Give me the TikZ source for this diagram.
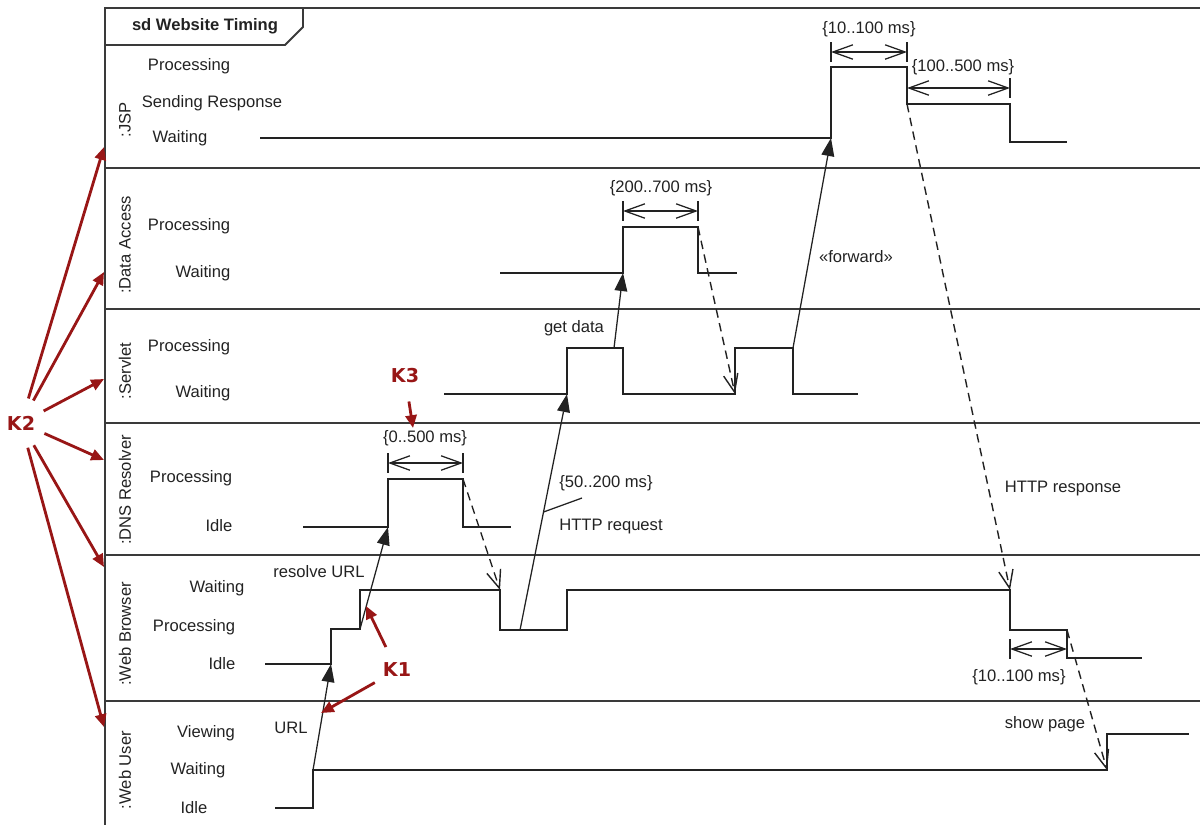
\documentclass[tikz,border=0pt]{standalone}
\usepackage{fontspec}
\setmainfont{Liberation Sans}
\newfontfamily\keyfont{DejaVu Sans}
\usetikzlibrary{arrows.meta}
\definecolor{ink}{HTML}{222222}
\definecolor{rule}{HTML}{3A3A3A}
\definecolor{keyred}{HTML}{981616}
\tikzset{frame/.style={draw=rule,line width=1.3pt}, sig/.style={draw=ink,line width=1.1pt}, lbl/.style={text=ink,font=\fontsize{11.8}{14}\selectfont,inner sep=1pt}, lane/.style={lbl,rotate=90}, call/.style={draw=ink,line width=0.9pt,-{Triangle[length=4.5mm,width=3.2mm]}}, reply/.style={draw=ink,line width=1pt,dash pattern=on 6pt off 4pt,-{Straight Barb[length=4.5mm,width=3.6mm]}}, dur/.style={draw=ink,line width=0.9pt,{Straight Barb[length=5mm,width=3.6mm]}-{Straight Barb[length=5mm,width=3.6mm]}}, key/.style={circle,inner sep=5pt,text=keyred,font=\keyfont\bfseries\fontsize{13.6}{16}\selectfont}, keyarr/.style={draw=keyred,line width=2pt,-{Triangle[length=3.2mm,width=2.8mm]}}}
\begin{document}
\begin{tikzpicture}[x=0.025cm,y=-0.025cm]
\useasboundingbox (0,0) rectangle (1200,825);
\draw[frame] (1200,8) -- (105,8) -- (105,825);
\foreach \y in {168,309,423,555,701}{\draw[frame] (105,\y) -- (1200,\y);}
\draw[frame] (105,45) -- (285,45) -- (303,27) -- (303,8);
\node[lbl,font=\fontsize{11.8}{14}\selectfont\bfseries] (title) at (205,26) {sd Website Timing};
\foreach \y/\t [count=\i] in {120/:JSP,245/:Data Access,371/:Servlet,490/:DNS Resolver,634/:Web Browser,770/:Web User}{\node[lane] (lane\i) at (125,\y) {\t};}
\foreach \x/\y/\t [count=\i] in {189/66/Processing,212/103/Sending Response,180/138/Waiting,189/226/Processing,203/273/Waiting,189/347/Processing,203/393/Waiting,191/478/Processing,219/526/Idle,217/588/Waiting,194/627/Processing,222/664/Idle,206/733/Viewing,198/770/Waiting,194/808/Idle}{\node[lbl] (st\i) at (\x,\y) {\t};}
\coordinate (js1) at (831,138);\coordinate (js2) at (907,104);
\coordinate (da1) at (623,273);\coordinate (da2) at (698,227);
\coordinate (sv1) at (567,394);\coordinate (sv2) at (614,348);\coordinate (sv3) at (735,394);\coordinate (sv4) at (793,348);
\coordinate (dn1) at (388,527);\coordinate (dn2) at (463,479);
\coordinate (wb1) at (331,664);\coordinate (wb2) at (360,629);\coordinate (wb3) at (500,590);\coordinate (wb4) at (520,630);\coordinate (wb5) at (1010,590);\coordinate (wb6) at (1067,630);
\coordinate (wu1) at (313,770);\coordinate (wu2) at (1107,770);
\draw[sig] (260,138) -- (js1) -- (831,67) -- (907,67) -- (js2) -- (1010,104) -- (1010,142) -- (1067,142);
\draw[sig] (500,273) -- (da1) -- (623,227) -- (da2) -- (698,273) -- (737,273);
\draw[sig] (444,394) -- (sv1) -- (567,348) -- (623,348) -- (623,394) -- (sv3) -- (735,348) -- (sv4) -- (793,394) -- (858,394);
\draw[sig] (303,527) -- (dn1) -- (388,479) -- (dn2) -- (463,527) -- (511,527);
\draw[sig] (265,664) -- (wb1) -- (331,629) -- (wb2) -- (360,590) -- (wb3) -- (500,630) -- (567,630) -- (567,590) -- (wb5) -- (1010,630) -- (wb6) -- (1067,658) -- (1142,658);
\draw[sig] (275,808) -- (313,808) -- (wu1) -- (wu2) -- (1107,734) -- (1189,734);
\foreach \a/\b/\y/\lx/\ly/\t [count=\i] in {831/907/52/869/29/10..100 ms,907/1010/88/963/67/100..500 ms,623/698/211/661/188/200..700 ms,388/463/463/425/438/0..500 ms,1010/1067/649/1019/677/10..100 ms}{\draw[sig,line width=0.9pt] (\a,\y-10) -- (\a,\y+10) (\b,\y-10) -- (\b,\y+10); \draw[dur] (\a,\y) -- (\b,\y); \node[lbl] (dur\i) at (\lx,\ly) {\{\t\}};}
\draw[call] (wu1) -- (wb1);
\draw[call] (wb2) -- (dn1);
\draw[reply] (dn2) -- (wb3);
\draw[call] (wb4) -- (sv1) coordinate[pos=0.5] (hq);
\draw[call] (sv2) -- (da1);
\draw[reply] (da2) -- (sv3);
\draw[call] (sv4) -- (js1);
\draw[reply] (js2) -- (wb5);
\draw[reply] (wb6) -- (wu2);
\node[lbl] (m1) at (291,728) {URL};
\node[lbl] (m2) at (319,572) {resolve URL};
\node[lbl] (m3) at (611,526) {HTTP request};
\node[lbl] (m4) at (606,483) {\{50..200 ms\}};
\coordinate (hl) at (582,498);\draw[ink,line width=0.9pt] (hq) -- (hl);
\node[lbl] (m5) at (574,328) {get data};
\node[lbl] (m6) at (856,257) {«forward»};
\node[lbl] (m7) at (1063,488) {HTTP response};
\node[lbl] (m8) at (1045,724) {show page};
\node[key] (k2) at (21,423) {K2};
\foreach \y [count=\i] in {147,272,379,460,567,727}{\coordinate (t\i) at (104,\y); \draw[keyarr] (k2) -- (t\i);}
\node[key] (k1) at (397,670) {K1};
\coordinate (k1a) at (366,606);\coordinate (k1b) at (321,713);
\draw[keyarr] (k1) -- (k1a);\draw[keyarr] (k1) -- (k1b);
\node[key] (k3) at (405,376) {K3};
\coordinate (k3a) at (413,428);\draw[keyarr] (k3) -- (k3a);
\end{tikzpicture}
\end{document}
